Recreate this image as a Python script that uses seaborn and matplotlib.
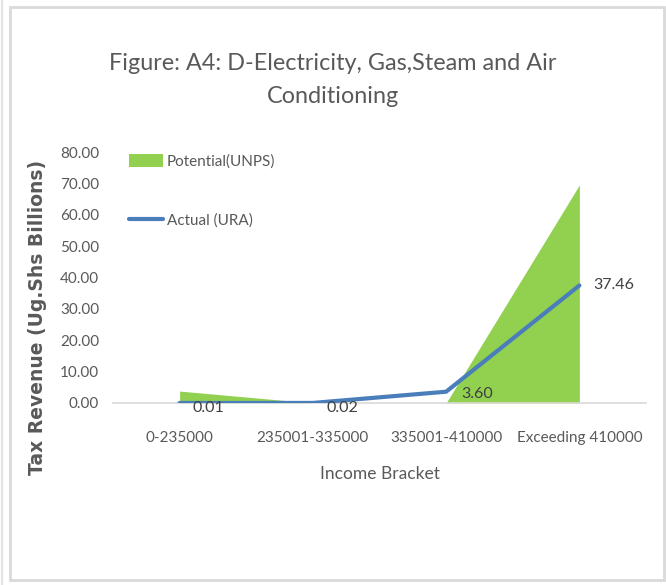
import numpy as np
import pandas as pd
import matplotlib
matplotlib.use('Agg')
import matplotlib.pyplot as plt
import seaborn as sns
from matplotlib.patches import Patch, Rectangle
from matplotlib.lines import Line2D

# chart values
brackets = ['0-235000', '235001-335000', '335001-410000', 'Exceeding 410000']
potential = [3.8, 0.0, 0.0, 69.5]
actual = [0.01, 0.02, 3.60, 37.46]
actual_labels = ['0.01', '0.02', '3.60', '37.46']
y_ticks = [0, 10, 20, 30, 40, 50, 60, 70, 80]

sns.set_style('white')
plt.rcParams['font.family'] = ['Lato', 'DejaVu Sans']

GREEN = '#92D050'
BLUE = '#4A7EBB'
GREY = '#595959'

df = pd.DataFrame({'bracket': brackets, 'pos': np.arange(len(brackets)),
                   'potential': potential, 'actual': actual})

fig = plt.figure(figsize=(6.66, 5.85), dpi=100)
ax = fig.add_axes([113 / 666, 1 - 403 / 585, 533 / 666, 251 / 585])

# potential as an area, actual as a line
ax.fill_between(df['pos'], 0, df['potential'], color=GREEN, linewidth=0, zorder=1)
sns.lineplot(data=df, x='pos', y='actual', color=BLUE, linewidth=3.0,
             solid_capstyle='round', ax=ax, zorder=3)

# data labels for actual
offsets = [(21, -3.5), (21, -3.5), (22, -1.5), (10, 0)]
for i, (v, lab) in enumerate(zip(actual, actual_labels)):
    dx, dy = offsets[i]
    ax.annotate(lab, (i, v), xytext=(dx, dy), textcoords='offset points',
                ha='center' if i < 3 else 'left', va='center',
                fontsize=11.5, color='#404040', zorder=4)

ax.set_xlim(-0.5, 3.5)
ax.set_ylim(0, 80)
ax.set_xticks(df['pos'])
ax.set_xticklabels(brackets, fontsize=11, color=GREY)
ax.set_yticks(y_ticks)
ax.set_yticklabels([f'{t:.2f}' for t in y_ticks], fontsize=11, color=GREY)
ax.tick_params(axis='x', length=0, pad=20)
ax.tick_params(axis='y', length=0, pad=10)

for s in ['top', 'right', 'left']:
    ax.spines[s].set_visible(False)
ax.spines['bottom'].set_color('#d9d9d9')
ax.spines['bottom'].set_linewidth(1.2)

ax.set_xlabel('Income Bracket', fontsize=12.5, color=GREY)
ax.xaxis.set_label_coords(0.5, -0.25)
ax.set_ylabel('Tax Revenue (Ug.Shs Billions)', fontsize=13.5, color=GREY,
              family='DejaVu Sans', fontweight='bold')
ax.yaxis.set_label_coords(-0.124, 0.34)

handles = [Patch(facecolor=GREEN, edgecolor='none'),
           Line2D([0], [0], color=BLUE, linewidth=3.0, solid_capstyle='round')]
ax.legend(handles, ['Potential(UNPS)', 'Actual (URA)'], loc='upper left',
          bbox_to_anchor=(0.005, 1.045), frameon=False, fontsize=11,
          labelspacing=2.9, handlelength=2.2, handleheight=0.85,
          handletextpad=0.25, labelcolor=GREY)

fig.text(0.5, 1 - 80 / 585, 'Figure: A4: D-Electricity, Gas,Steam and Air\nConditioning',
         ha='center', va='center', fontsize=16.8, color=GREY, linespacing=1.7)

# outer chart frame
fig.patches.append(Rectangle((10 / 666, 1 - 580 / 585), 654 / 666, 573 / 585,
                             transform=fig.transFigure, fill=False,
                             edgecolor='#d9d9d9', linewidth=2))
fig.add_artist(Line2D([1.5 / 666, 1.5 / 666], [0, 1], transform=fig.transFigure,
                      color='#e3e3e3', linewidth=1.5))

fig.savefig('out.png', dpi=100)
